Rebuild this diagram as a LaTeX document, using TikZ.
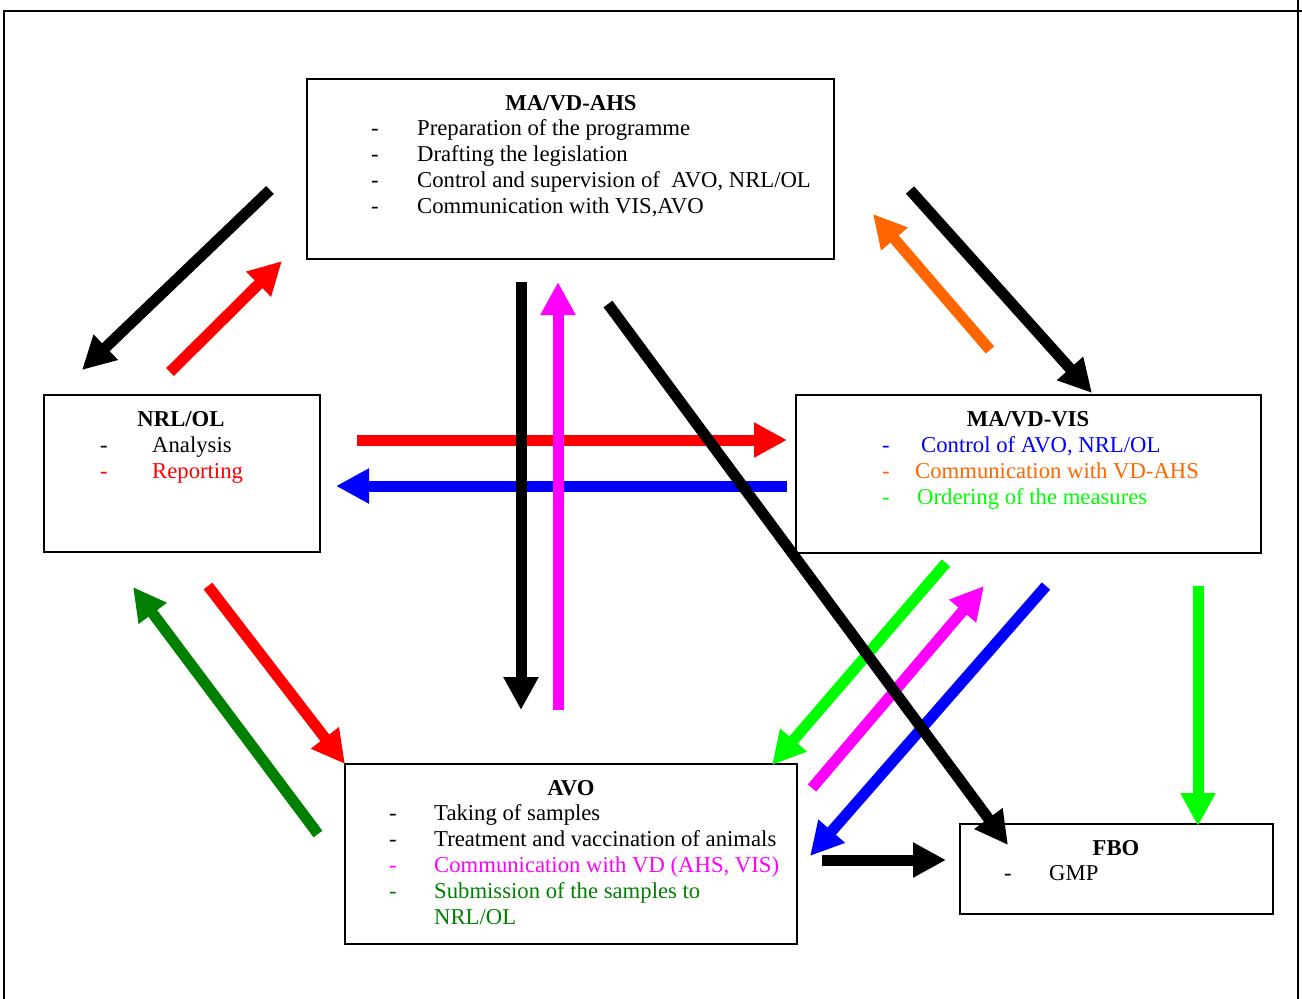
\documentclass[tikz,border=0pt]{standalone}
\usepackage{fontspec}
\setmainfont{Liberation Serif}
\usetikzlibrary{arrows.meta}
\definecolor{myorange}{RGB}{255,102,0}
\definecolor{mygreen}{RGB}{0,255,0}
\definecolor{mydarkgreen}{RGB}{0,128,0}
\definecolor{mymagenta}{RGB}{255,0,255}
\definecolor{myred}{RGB}{255,0,0}
\definecolor{myblue}{RGB}{0,0,255}
\begin{document}
\begin{tikzpicture}[x=1pt,y=-1pt,
  box/.style={draw, line width=2pt, inner sep=0pt},
  txt/.style={anchor=base west, inner sep=0pt, font=\fontsize{22.7}{26}\selectfont},
  ttl/.style={anchor=base, inner sep=0pt, font=\fontsize{22.7}{26}\selectfont\bfseries},
  dsh/.style={anchor=base, inner sep=0pt, font=\fontsize{22.7}{26}\selectfont},
  arr/.style={line width=11pt, -{Triangle[width=33pt,length=33pt]}}]
\useasboundingbox (0,0) rectangle (1302,999);
% outer frame
\draw[line width=2pt] (4,999) -- (4,11) -- (1302,11);
\draw[line width=2pt] (1298,0) -- (1298,999);

% boxes
\node[box, minimum width=527pt, minimum height=180pt] (ahs) at (570.5,169) {};
\node[box, minimum width=276pt, minimum height=157pt] (nrl) at (182,473.5) {};
\node[box, minimum width=465pt, minimum height=158pt] (vis) at (1028.5,474) {};
\node[box, minimum width=452pt, minimum height=180pt] (avo) at (571,854) {};
\node[box, minimum width=313pt, minimum height=90pt] (fbo) at (1116.5,869) {};

% AHS text
\node[ttl] (ahsT) at (571,110) {MA/VD-AHS};
\node[dsh] (ahsD1) at (375,135.5) {-};
\node[txt] (ahs1) at (417,135.5) {Preparation of the programme};
\node[dsh] (ahsD2) at (375,161.5) {-};
\node[txt] (ahs2) at (417,161.5) {Drafting the legislation};
\node[dsh] (ahsD3) at (375,187.5) {-};
\node[txt] (ahs3) at (417,187.5) {Control and supervision of \ AVO, NRL/OL};
\node[dsh] (ahsD4) at (375,213.5) {-};
\node[txt] (ahs4) at (417,213.5) {Communication with VIS,AVO};

% NRL text
\node[ttl] (nrlT) at (181,426) {NRL/OL};
\node[dsh] (nrlD1) at (104,452.5) {-};
\node[txt] (nrl1) at (152,452.5) {Analysis};
\node[dsh, text=myred] (nrlD2) at (104,478.5) {-};
\node[txt, text=myred] (nrl2) at (152,478.5) {Reporting};

% VIS text
\node[ttl] (visT) at (1028,426) {MA/VD-VIS};
\node[dsh, text=myblue] (visD1) at (886,452) {-};
\node[txt, text=myblue] (vis1) at (921,452) {Control of AVO, NRL/OL};
\node[dsh, text=myorange] (visD2) at (886,478) {-};
\node[txt, text=myorange] (vis2) at (915,478) {Communication with VD-AHS};
\node[dsh, text=mygreen] (visD3) at (886,504) {-};
\node[txt, text=mygreen] (vis3) at (917,504) {Ordering of the measures};

% AVO text
\node[ttl] (avoT) at (571,795) {AVO};
\node[dsh] (avoD1) at (393,820.5) {-};
\node[txt] (avo1) at (434,820.5) {Taking of samples};
\node[dsh] (avoD2) at (393,846.5) {-};
\node[txt] (avo2) at (434,846.5) {Treatment and vaccination of animals};
\node[dsh, text=mymagenta] (avoD3) at (393,872.5) {-};
\node[txt, text=mymagenta] (avo3) at (434,872.5) {Communication with VD (AHS, VIS)};
\node[dsh, text=mydarkgreen] (avoD4) at (393,898.5) {-};
\node[txt, text=mydarkgreen] (avo4) at (434,898.5) {Submission of the samples to};
\node[txt, text=mydarkgreen] (avo5) at (434,924.5) {NRL/OL};

% FBO text
\node[ttl] (fboT) at (1116,855) {FBO};
\node[dsh] (fboD1) at (1008,880.5) {-};
\node[txt] (fbo1) at (1049,880.5) {GMP};

% arrow end points
\coordinate (a1s) at (270,190);  \coordinate (a1e) at (82,370);
\coordinate (a2s) at (170,372);  \coordinate (a2e) at (282,261);
\coordinate (a3s) at (521,282);  \coordinate (a3e) at (521,710);
\coordinate (a4s) at (558,710);  \coordinate (a4e) at (558,282);
\coordinate (a5s) at (608,304);  \coordinate (a5e) at (1008,845);
\coordinate (a6s) at (910,190);  \coordinate (a6e) at (1092,393);
\coordinate (a7s) at (990,350);  \coordinate (a7e) at (873,214);
\coordinate (a8s) at (357,440);  \coordinate (a8e) at (787,440);
\coordinate (a9s) at (787,486);  \coordinate (a9e) at (336,486);
\coordinate (a10s) at (208,586); \coordinate (a10e) at (345,764);
\coordinate (a11s) at (318,834); \coordinate (a11e) at (133,587);
\coordinate (a12s) at (946,563); \coordinate (a12e) at (772,765);
\coordinate (a13s) at (812,788); \coordinate (a13e) at (984,586);
\coordinate (a14s) at (1046,586); \coordinate (a14e) at (810,856);
\coordinate (a15s) at (1198,586); \coordinate (a15e) at (1198,826);
\coordinate (a16s) at (822,860); \coordinate (a16e) at (946,860);

% arrows (order: later ones on top)
\draw[arr, black] (a1s) -- (a1e);
\draw[arr, myred] (a2s) -- (a2e);
\draw[arr, myorange] (a7s) -- (a7e);
\draw[arr, black] (a6s) -- (a6e);
\draw[arr, myred] (a10s) -- (a10e);
\draw[arr, mydarkgreen] (a11s) -- (a11e);
\draw[arr, myred] (a8s) -- (a8e);
\draw[arr, myblue] (a9s) -- (a9e);
\draw[arr, black] (a3s) -- (a3e);
\draw[arr, mymagenta] (a4s) -- (a4e);
\draw[arr, mygreen] (a12s) -- (a12e);
\draw[arr, mymagenta] (a13s) -- (a13e);
\draw[arr, myblue] (a14s) -- (a14e);
\draw[arr, black] (a5s) -- (a5e);
\draw[arr, mygreen] (a15s) -- (a15e);
\draw[arr, black] (a16s) -- (a16e);
\end{tikzpicture}
\end{document}
